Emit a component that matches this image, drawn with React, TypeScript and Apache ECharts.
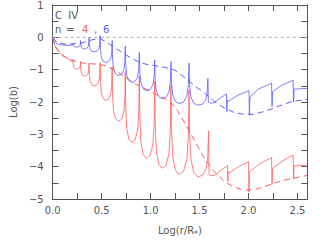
import React, { useEffect, useRef } from "react";
import * as echarts from "echarts";

const redSolid: [number, number][] = [
  [0, 0], [0.01, -0.15], [0.03, -0.3], [0.06, -0.45], [0.1, -0.57], [0.15, -0.66], [0.19, -0.72], [0.203, -0.74],
  [0.208, -0.68], [0.21, -0.83], [0.216, -0.92], [0.227, -0.965], [0.243, -0.98], [0.262, -0.97], [0.276, -0.94], [0.282, -0.88],
  [0.285, -0.75], [0.288, -0.975], [0.294, -1.11], [0.307, -1.18], [0.324, -1.2], [0.346, -1.18], [0.362, -1.13], [0.368, -1.02],
  [0.372, -0.8], [0.375, -1.15], [0.383, -1.36], [0.4, -1.465], [0.423, -1.5], [0.451, -1.47], [0.471, -1.37], [0.48, -1.18],
  [0.485, -0.78], [0.489, -1.37], [0.497, -1.72], [0.516, -1.89], [0.54, -1.95], [0.571, -1.91], [0.593, -1.76], [0.603, -1.49],
  [0.608, -0.92], [0.612, -1.76], [0.621, -2.26], [0.642, -2.52], [0.668, -2.6], [0.702, -2.54], [0.726, -2.32], [0.737, -1.9],
  [0.742, -1.05], [0.746, -2.15], [0.756, -2.81], [0.778, -3.14], [0.806, -3.25], [0.842, -3.17], [0.868, -2.88], [0.879, -2.33],
  [0.885, -1.2], [0.89, -2.48], [0.901, -3.24], [0.924, -3.62], [0.956, -3.75], [0.995, -3.65], [1.023, -3.32], [1.036, -2.68],
  [1.042, -1.37], [1.047, -2.71], [1.059, -3.51], [1.084, -3.92], [1.117, -4.05], [1.158, -3.95], [1.188, -3.59], [1.201, -2.89],
  [1.208, -1.47], [1.214, -2.86], [1.226, -3.69], [1.254, -4.11], [1.291, -4.25], [1.337, -4.14], [1.37, -3.78], [1.385, -3.07],
  [1.392, -1.62], [1.398, -2.97], [1.412, -3.78], [1.442, -4.18], [1.482, -4.32], [1.532, -4.26], [1.568, -4.06], [1.584, -3.68],
  [1.592, -2.9], [1.597, -4.25], [1.62, -4.28], [1.66, -4.26], [1.72, -4.1], [1.785, -3.97], [1.789, -4.45], [1.792, -4.15],
  [1.8, -4.2], [1.9, -4.0], [2.0, -3.85], [2.004, -4.78], [2.01, -4.15], [2.12, -3.9], [2.235, -3.72], [2.24, -4.55],
  [2.246, -4.05], [2.35, -3.82], [2.455, -3.64], [2.46, -4.38], [2.466, -3.98], [2.6, -3.95],
];

const redDashed: [number, number][] = [
  [0, 0], [0.03, -0.3], [0.08, -0.5], [0.15, -0.65], [0.25, -0.77], [0.35, -0.81], [0.45, -0.83], [0.55, -0.88],
  [0.65, -1.05], [0.75, -1.25], [0.85, -1.45], [0.95, -1.6], [1.05, -1.76], [1.15, -1.9], [1.25, -2.15], [1.35, -2.65],
  [1.45, -3.2], [1.55, -3.75], [1.65, -4.15], [1.75, -4.45], [1.85, -4.63], [1.95, -4.72], [2.05, -4.72], [2.15, -4.63],
  [2.25, -4.52], [2.35, -4.43], [2.45, -4.36], [2.6, -4.27],
];

const blueSolid: [number, number][] = [
  [0, 0], [0.01, -0.1], [0.03, -0.18], [0.06, -0.22], [0.1, -0.24], [0.15, -0.25], [0.19, -0.24], [0.203, -0.22],
  [0.208, -0.18], [0.21, -0.24], [0.216, -0.276], [0.227, -0.294], [0.243, -0.3], [0.262, -0.292], [0.276, -0.264], [0.282, -0.21],
  [0.285, -0.1], [0.288, -0.23], [0.294, -0.31], [0.307, -0.347], [0.324, -0.36], [0.346, -0.346], [0.362, -0.295], [0.368, -0.2],
  [0.372, 0.0], [0.375, -0.225], [0.383, -0.36], [0.4, -0.43], [0.423, -0.45], [0.451, -0.43], [0.471, -0.36], [0.48, -0.225],
  [0.485, 0.05], [0.489, -0.365], [0.497, -0.61], [0.516, -0.74], [0.54, -0.78], [0.571, -0.75], [0.593, -0.66], [0.603, -0.47],
  [0.608, -0.1], [0.612, -0.64], [0.621, -0.96], [0.642, -1.13], [0.668, -1.18], [0.702, -1.14], [0.726, -1.02], [0.737, -0.77],
  [0.742, -0.27], [0.746, -0.84], [0.756, -1.17], [0.778, -1.34], [0.806, -1.4], [0.842, -1.36], [0.868, -1.23], [0.879, -0.98],
  [0.885, -0.47], [0.89, -1.06], [0.901, -1.41], [0.924, -1.59], [0.956, -1.65], [0.995, -1.61], [1.023, -1.48], [1.036, -1.22],
  [1.042, -0.7], [1.047, -1.3], [1.059, -1.66], [1.084, -1.84], [1.117, -1.9], [1.158, -1.85], [1.188, -1.69], [1.201, -1.38],
  [1.208, -0.75], [1.214, -1.4], [1.226, -1.79], [1.254, -1.985], [1.291, -2.05], [1.337, -2.0], [1.37, -1.825], [1.385, -1.49],
  [1.392, -0.8], [1.398, -1.45], [1.411, -1.84], [1.44, -2.035], [1.479, -2.1], [1.527, -2.07], [1.562, -1.95], [1.577, -1.73],
  [1.585, -1.27], [1.59, -2.0], [1.61, -2.04], [1.65, -2.02], [1.71, -1.88], [1.775, -1.75], [1.779, -2.3], [1.783, -1.95],
  [1.79, -1.98], [1.9, -1.78], [2.005, -1.65], [2.009, -2.4], [2.014, -1.85], [2.1, -1.6], [2.235, -1.42], [2.24, -2.14],
  [2.246, -1.68], [2.34, -1.48], [2.455, -1.33], [2.46, -2.0], [2.466, -1.6], [2.6, -1.58],
];

const blueDashed: [number, number][] = [
  [0, 0], [0.05, -0.17], [0.15, -0.22], [0.3, -0.17], [0.4, -0.08], [0.48, -0.03], [0.55, -0.15], [0.65, -0.35],
  [0.75, -0.55], [0.85, -0.72], [0.95, -0.83], [1.05, -0.88], [1.15, -0.93], [1.25, -1.02], [1.35, -1.25], [1.45, -1.5],
  [1.55, -1.72], [1.65, -1.98], [1.75, -2.18], [1.85, -2.32], [1.95, -2.38], [2.05, -2.38], [2.15, -2.3], [2.25, -2.2],
  [2.35, -2.08], [2.45, -1.98], [2.6, -1.92],
];

const zeroLine: [number, number][] = [[0, 0], [2.6, 0]];

const X_MIN = 0;
const X_MAX = 2.6;
const Y_MIN = -5;
const Y_MAX = 1;

const RED = "#ff5c5c";
const BLUE = "#5c5cff";
const GRAY = "#555";
const FONT = "DejaVu Sans";

export default function App() {
  const ref = useRef<HTMLDivElement>(null);
  useEffect(() => {
    document.body.style.margin = "0";
    const chart = echarts.init(ref.current!, undefined, { renderer: "svg" });
    const tickCommon = {
      axisLine: { show: true, onZero: false, lineStyle: { color: GRAY, width: 1 } },
      axisTick: { show: true, inside: true, length: 6, lineStyle: { color: GRAY, width: 1 } },
      splitLine: { show: false },
    };
    const xFmt = (v: number) => (Math.abs(v * 2 - Math.round(v * 2)) < 1e-6 ? v.toFixed(1) : "");
    const yFmt = (v: number) =>
      Math.abs(v - Math.round(v)) < 1e-6 ? (v < 0 ? "\u2212" + Math.round(-v) : String(Math.round(v))) : "";
    const txt = (text: string, x: number, y: number, fill: string) => ({
      type: "text", x, y,
      style: { text, fill, fontSize: 10, fontFamily: FONT, verticalAlign: "middle", textVerticalAlign: "middle" },
    });
    const option: any = {
      animation: false,
      grid: { left: 47.5, right: 17.7, top: 4.9, bottom: 50 },
      xAxis: [
        {
          type: "value", min: X_MIN, max: X_MAX, interval: 0.25, position: "bottom",
          ...tickCommon,
          axisLabel: { formatter: xFmt, color: GRAY, fontSize: 10, fontFamily: FONT, margin: 6, showMaxLabel: false },
          name: "Log(r/R{s|*})", nameLocation: "middle", nameGap: 23,
          nameTextStyle: { color: GRAY, fontSize: 10, fontFamily: FONT, rich: { s: { fontSize: 8, color: GRAY, fontFamily: FONT, padding: [8, 0, 0, 0] } } },
        },
        {
          type: "value", min: X_MIN, max: X_MAX, interval: 0.25, position: "top",
          ...tickCommon, axisLabel: { show: false },
        },
      ],
      yAxis: [
        {
          type: "value", min: Y_MIN, max: Y_MAX, interval: 0.5, position: "left",
          ...tickCommon,
          axisLabel: { formatter: yFmt, color: GRAY, fontSize: 10, fontFamily: FONT, margin: 9 },
          name: "Log(b)", nameLocation: "middle", nameGap: 30,
          nameTextStyle: { color: GRAY, fontSize: 10, fontFamily: FONT },
        },
        {
          type: "value", min: Y_MIN, max: Y_MAX, interval: 0.5, position: "right",
          ...tickCommon, axisLabel: { show: false },
        },
      ],
      series: [
        { type: "line", data: zeroLine, symbol: "none", silent: true, lineStyle: { color: "#aaa", width: 1, type: [3, 3] } },
        { type: "line", data: redDashed, symbol: "none", lineStyle: { color: RED, width: 1, type: [6, 4] } },
        { type: "line", data: blueDashed, symbol: "none", lineStyle: { color: BLUE, width: 1, type: [6, 4] } },
        { type: "line", data: redSolid, symbol: "none", lineStyle: { color: RED, width: 0.8 } },
        { type: "line", data: blueSolid, symbol: "none", lineStyle: { color: BLUE, width: 0.8 } },
      ],
      graphic: [
        txt("C  IV", 55, 15, GRAY),
        txt("n", 55, 29, GRAY),
        txt("=", 66, 29, GRAY),
        txt("4", 82, 29, RED),
        txt(",", 94, 29, BLUE),
        txt("6", 103, 29, BLUE),
      ],
    };
    chart.setOption(option);
    return () => chart.dispose();
  }, []);
  return <div ref={ref} style={{ width: 325, height: 249 }} />;
}
